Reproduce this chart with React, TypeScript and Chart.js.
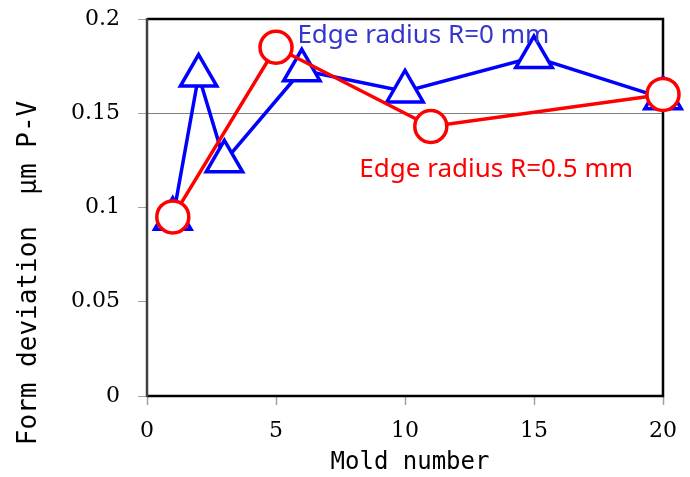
import React, { useEffect, useRef } from "react";
import { Chart, registerables } from "chart.js";

Chart.register(...registerables);

// ---- data ----
const moldR0: number[] = [1, 2, 3, 6, 10, 15, 20];
const devR0: number[] = [0.094, 0.170, 0.1245, 0.1728, 0.1616, 0.1798, 0.158];
const moldR05: number[] = [1, 5, 11, 20];
const devR05: number[] = [0.095, 0.185, 0.143, 0.160];

const xTicks: number[] = [0, 5, 10, 15, 20];
const yTicks: number[] = [0, 0.05, 0.1, 0.15, 0.2];
const yTickLabels: string[] = ["0", "0.05", "0.1", "0.15", "0.2"];

const labelR0 = "Edge radius R=0 mm";
const labelR05 = "Edge radius R=0.5 mm";
const labelR0Pos = { x: 5.83, y: 0.1873 };
const labelR05Pos = { x: 8.23, y: 0.1162 };

const xTitle = "Mold number";
const yTitle = "Form deviation  μm P-V";

const BLUE = "#0000ff";
const RED = "#ff0000";

const framePlugin = {
  id: "frame",
  beforeDatasetsDraw(chart: any) {
    const { ctx, chartArea: a } = chart;
    ctx.save();
    ctx.strokeStyle = "#000";
    ctx.lineWidth = 2.5;
    ctx.beginPath();
    ctx.moveTo(a.left, a.top);
    ctx.lineTo(a.right, a.top);
    ctx.lineTo(a.right, a.bottom);
    ctx.lineTo(a.left, a.bottom);
    ctx.stroke();
    ctx.strokeStyle = "#404040";
    ctx.beginPath();
    ctx.moveTo(a.left, a.top - 1);
    ctx.lineTo(a.left, a.bottom + 1);
    ctx.stroke();
    ctx.restore();
  },
  afterDraw(chart: any) {
    const { ctx } = chart;
    const xs = chart.scales.x;
    const ys = chart.scales.y;
    ctx.save();
    ctx.font = '26px "Noto Sans", "DejaVu Sans", sans-serif';
    ctx.textBaseline = "alphabetic";
    ctx.textAlign = "left";
    ctx.fillStyle = "#3535d0";
    ctx.fillText(labelR0, xs.getPixelForValue(labelR0Pos.x), ys.getPixelForValue(labelR0Pos.y));
    ctx.fillStyle = RED;
    ctx.fillText(labelR05, xs.getPixelForValue(labelR05Pos.x), ys.getPixelForValue(labelR05Pos.y));

    // axis titles
    ctx.fillStyle = "#000";
    ctx.font = '24px "DejaVu Sans Mono", monospace';
    ctx.textAlign = "center";
    ctx.fillText(xTitle, (chart.chartArea.left + chart.chartArea.right) / 2 + 5, 469);

    ctx.translate(36, 273);
    ctx.rotate(-Math.PI / 2);
    ctx.font = '26px "DejaVu Sans Mono", monospace';
    ctx.fillText(yTitle, 0, 0);
    ctx.restore();
  },
};

export default function App() {
  const ref = useRef<HTMLCanvasElement | null>(null);
  useEffect(() => {
    document.body.style.margin = "0";
    const canvas = ref.current!;
    const chart = new Chart(canvas, {
      type: "line",
      data: {
        datasets: [
          {
            label: labelR05,
            data: moldR05.map((x, i) => ({ x, y: devR05[i] })),
            borderColor: RED,
            borderWidth: 3.5,
            pointStyle: "circle",
            pointRadius: 16,
            pointBorderWidth: 3.5,
            pointBackgroundColor: "#fff",
            pointBorderColor: RED,
            clip: false,
            order: 0,
          } as any,
          {
            label: labelR0,
            data: moldR0.map((x, i) => ({ x, y: devR0[i] })),
            borderColor: BLUE,
            borderWidth: 3.5,
            pointStyle: "triangle",
            pointRadius: 21,
            pointBorderWidth: 3.5,
            pointBackgroundColor: "#fff",
            pointBorderColor: BLUE,
            clip: false,
            order: 1,
          } as any,
        ],
      },
      options: {
        responsive: false,
        animation: false,
        layout: { autoPadding: false, padding: { left: 0, right: 27, top: 19, bottom: 0 } },
        plugins: { legend: { display: false }, tooltip: { enabled: false } },
        scales: {
          x: {
            type: "linear",
            min: 0,
            max: 20,
            afterBuildTicks: (s: any) => {
              s.ticks = xTicks.map((v) => ({ value: v }));
            },
            afterFit: (s: any) => {
              s.height = 81;
              s.paddingLeft = 0;
              s.paddingRight = 0;
            },
            ticks: {
              font: { family: '"DejaVu Serif", serif', size: 22 },
              color: "#000",
              padding: 13,
              maxRotation: 0,
              callback: (v: any) => String(v),
            },
            grid: {
              color: "transparent",
              tickColor: "#a0a0a0",
              tickLength: 9,
              tickWidth: 1.5,
            },
            border: { display: false },
          },
          y: {
            type: "linear",
            min: 0,
            max: 0.2,
            afterBuildTicks: (s: any) => {
              s.ticks = yTicks.map((v) => ({ value: v }));
            },
            afterFit: (s: any) => {
              s.width = 147;
              s.paddingTop = 0;
              s.paddingBottom = 0;
            },
            ticks: {
              font: { family: '"DejaVu Serif", serif', size: 22 },
              color: "#000",
              padding: 18,
              callback: (v: any) => {
                const i = yTicks.findIndex((t) => Math.abs(t - v) < 1e-9);
                return i >= 0 ? yTickLabels[i] : "";
              },
            },
            grid: {
              color: (c: any) => (c.tick && Math.abs(c.tick.value - 0.15) < 1e-9 ? "#808080" : "transparent"),
              tickColor: "#a0a0a0",
              tickLength: 9,
              lineWidth: 1,
            },
            border: { display: false },
          },
        },
      },
      plugins: [framePlugin],
    });
    return () => chart.destroy();
  }, []);
  return (
    <div style={{ position: "fixed", left: 0, top: 0, width: 690, height: 477, background: "#fff" }}>
      <canvas ref={ref} width={690} height={477} style={{ width: 690, height: 477 }} />
    </div>
  );
}
